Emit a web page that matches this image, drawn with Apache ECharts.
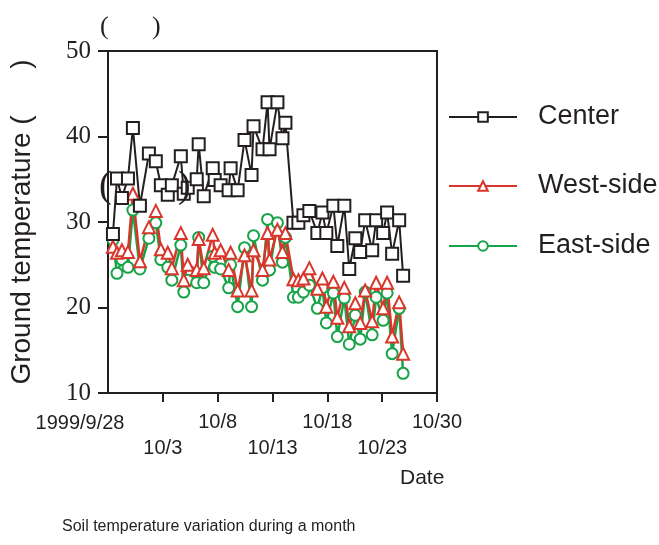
<!DOCTYPE html>
<html><head><meta charset="utf-8">
<script src="https://cdn.jsdelivr.net/npm/echarts@6/dist/echarts.min.js"></script>
<style>html,body{margin:0;padding:0;background:#fff}#c{width:659px;height:545px}</style>
</head><body><div id="c"></div>
<script>
// days elapsed since 1999/9/28 (x position of each reading)
const dayOffsets = [0.45,0.82,1.27,1.82,2.27,2.91,3.73,4.36,4.82,5.45,5.82,6.64,6.91,7.27,8.09,8.27,8.73,9.55,9.73,10.27,11.0,11.18,11.82,12.45,13.09,13.27,14.09,14.55,14.73,15.45,15.91,16.18,16.91,17.36,17.82,18.36,19.09,19.55,19.91,20.55,20.91,21.55,22.0,22.55,23.0,23.45,24.09,24.45,25.09,25.45,25.91,26.55,26.91];
const centerTemp = [28.6,35.1,32.8,35.1,41.0,31.9,38.0,37.1,34.3,33.2,34.3,37.7,33.3,34.0,35.0,39.1,33.0,36.3,34.9,34.3,33.7,36.3,33.7,39.6,35.5,41.2,38.5,44.0,38.5,44.0,39.8,41.6,29.9,29.9,30.8,31.3,28.7,31.1,28.7,31.9,27.2,31.9,24.5,28.1,26.5,30.2,26.7,30.2,28.7,31.1,26.3,30.2,23.7];
const westTemp = [27.1,26.4,26.7,26.5,33.3,25.4,29.4,31.3,26.8,26.4,24.6,28.7,23.2,25.0,24.4,28.0,24.6,28.5,26.4,26.7,24.4,26.4,22.0,26.1,22.0,26.7,24.4,28.7,25.6,29.1,26.5,28.7,23.3,23.2,23.4,24.6,22.2,23.4,20.1,23.0,18.8,22.3,17.8,20.5,18.2,22.0,18.4,22.9,19.9,22.9,16.6,20.6,14.6];
const eastTemp = [27.9,24.0,25.6,24.7,31.4,24.5,28.1,29.9,25.6,24.7,23.2,27.3,21.8,23.2,22.9,28.2,22.9,26.0,24.7,24.5,22.3,25.0,20.1,27.0,20.1,28.4,23.2,30.3,24.4,29.9,25.3,28.2,21.2,21.2,21.8,22.6,19.9,22.3,18.2,21.7,16.6,21.1,15.7,19.1,16.3,21.8,16.8,21.2,18.5,21.7,14.6,19.9,12.3];
const xTickLabels = ['1999/9/28','10/3','10/8','10/13','10/18','10/23','10/30'];
const seriesNames = ['Center','West-side','East-side'];
const yName = 'Ground temperature (      )';
const xName = 'Date';
const caption = 'Soil temperature variation during a month';

const SANS = "'Liberation Sans', Arial, sans-serif";
const SERIF = "'Liberation Serif', 'Times New Roman', serif";
const INK = '#231f20', RED = '#d9362b', GREEN = '#17a348';

const chart = echarts.init(document.getElementById('c'), null, {renderer: 'canvas'});
const pairs = arr => dayOffsets.map((d, i) => [d, arr[i]]);
const legendBase = {
  orient: 'vertical', left: 448, padding: 0, itemWidth: 68, itemHeight: 12,
  textStyle: {fontFamily: SANS, fontSize: 27, color: INK, lineHeight: 30, padding: [0, 0, 0, 16]}
};
chart.setOption({
  animation: false,
  backgroundColor: '#fff',
  grid: {left: 107, top: 51, right: 222, bottom: 152, show: true, borderColor: INK, borderWidth: 2},
  legend: [
    Object.assign({}, legendBase, {data: [seriesNames[0]], top: 102}),
    Object.assign({}, legendBase, {data: [seriesNames[1]], top: 171}),
    Object.assign({}, legendBase, {data: [seriesNames[2]], top: 231})
  ],
  xAxis: {
    type: 'value', min: 0, max: 30, interval: 5,
    axisLine: {lineStyle: {color: INK, width: 2}},
    axisTick: {show: true, length: 9, lineStyle: {color: INK, width: 2}},
    splitLine: {show: false},
    axisLabel: {
      fontFamily: SANS, fontSize: 20, color: INK, lineHeight: 26, margin: 16,
      showMinLabel: false, showMaxLabel: true,
      formatter: function (v) {
        const i = Math.round(v / 5);
        const t = xTickLabels[i];
        return i % 2 ? '\n' + t : t;
      }
    }
  },
  yAxis: {
    type: 'value', min: 10, max: 50, interval: 10,
    name: yName, nameLocation: 'middle', nameGap: 72, nameRotate: 90,
    nameTextStyle: {fontFamily: SANS, fontSize: 28, color: INK},
    axisLine: {show: true, lineStyle: {color: INK, width: 2}},
    axisTick: {show: true, length: 10, lineStyle: {color: INK, width: 2}},
    splitLine: {show: false},
    axisLabel: {fontFamily: SERIF, fontSize: 25, color: INK, margin: 17}
  },
  series: [
    {name: seriesNames[2], type: 'line', data: pairs(eastTemp), symbol: 'emptyCircle', symbolSize: 11,
     lineStyle: {color: GREEN, width: 2.5}, itemStyle: {color: GREEN, borderWidth: 2}},
    {name: seriesNames[1], type: 'line', data: pairs(westTemp), symbol: 'emptyTriangle', symbolSize: 12,
     lineStyle: {color: RED, width: 2.5}, itemStyle: {color: RED, borderWidth: 2}},
    {name: seriesNames[0], type: 'line', data: pairs(centerTemp), symbol: 'emptyRect', symbolSize: 12,
     lineStyle: {color: INK, width: 2}, itemStyle: {color: INK, borderWidth: 2}}
  ],
  graphic: [
    // first x tick label sits left of its tick in the reference
    {type: 'text', x: 80, y: 423, style: {text: xTickLabels[0], font: '20px ' + SANS, fill: INK, align: 'center', verticalAlign: 'middle'}},
    {type: 'text', x: 100, y: 27, style: {text: '(', font: '26px ' + SERIF, fill: INK, verticalAlign: 'middle'}},
    {type: 'text', x: 152, y: 27, style: {text: ')', font: '26px ' + SERIF, fill: INK, verticalAlign: 'middle'}},
    {type: 'text', x: 99, y: 187, z: 10, style: {text: '(', font: '38px ' + SERIF, fill: INK, verticalAlign: 'middle'}},
    {type: 'text', x: 178, y: 187, z: 10, style: {text: ')', font: '38px ' + SERIF, fill: INK, verticalAlign: 'middle'}},
    {type: 'text', x: 400, y: 478, style: {text: xName, font: '21px ' + SANS, fill: INK, verticalAlign: 'middle'}},
    {type: 'text', x: 62, y: 527, style: {text: caption, font: '16px ' + SANS, fill: INK, verticalAlign: 'middle'}}
  ]
});
</script></body></html>
